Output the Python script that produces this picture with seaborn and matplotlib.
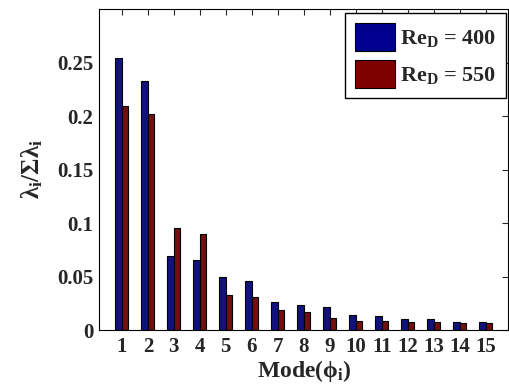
import pandas as pd
import matplotlib
matplotlib.use("Agg")
import matplotlib.pyplot as plt
import seaborn as sns
from matplotlib.patches import Patch

# valores
modos = [str(i) for i in range(1, 16)]
re_400 = [0.254, 0.233, 0.0695, 0.0658, 0.0499, 0.0461, 0.0265, 0.0237,
          0.0218, 0.0143, 0.0134, 0.0106, 0.0106, 0.0078, 0.0078]
re_550 = [0.2095, 0.202, 0.0957, 0.0895, 0.033, 0.0312, 0.019, 0.0171,
          0.0115, 0.0087, 0.0087, 0.0078, 0.0078, 0.0068, 0.0068]
etiquetas = [r'Re$_\mathbf{D}$ = 400', r'Re$_\mathbf{D}$ = 550']
colores = ['#00008f', '#800000']

df = pd.DataFrame({
    'modo': modos * 2,
    'valor': re_400 + re_550,
    'caso': [etiquetas[0]] * 15 + [etiquetas[1]] * 15,
})

sns.set_style('white')
plt.rcParams['font.family'] = ['Liberation Serif', 'DejaVu Serif']
plt.rcParams['font.weight'] = 'bold'
plt.rcParams['mathtext.fontset'] = 'custom'
plt.rcParams['mathtext.rm'] = 'Liberation Serif:bold'
plt.rcParams['mathtext.it'] = 'Liberation Serif:bold'
plt.rcParams['mathtext.bf'] = 'Liberation Serif:bold'

fig = plt.figure(figsize=(5.09, 3.9), dpi=100)
ax = fig.add_axes([0.1945, 0.1538, 0.8045, 0.823])

sns.barplot(data=df, x='modo', y='valor', hue='caso', palette=colores,
            width=0.5, edgecolor='black', linewidth=0.8, ax=ax, legend=False)

ax.set_xlim(-0.88, 14.88)
ax.set_ylim(0, 0.3)
ax.set_yticks([0, 0.05, 0.1, 0.15, 0.2, 0.25])
ax.set_yticklabels(['0', '0.05', '0.1', '0.15', '0.2', '0.25'])
ax.tick_params(direction='in', length=4, width=0.8, top=True, right=True,
               labelsize=15, pad=4)
ax.tick_params(axis='x', pad=5)
for s in ax.spines.values():
    s.set_visible(True)
    s.set_color('black')
    s.set_linewidth(0.8)

ax.set_xlabel(r'Mode($\phi_\mathbf{i}$)', fontsize=17, fontweight='bold', labelpad=1)
ax.set_ylabel(r'$\lambda_\mathbf{i}/\Sigma\lambda_\mathbf{i}$', fontsize=18,
              fontweight='bold', labelpad=9)

handles = [Patch(facecolor=c, edgecolor='black', linewidth=0.8) for c in colores]
ax.legend(handles, etiquetas, loc='upper right', fontsize=16, fancybox=False,
          edgecolor='black', framealpha=1, handlelength=1.8, handleheight=1.55,
          handletextpad=0.25, borderpad=0.45, labelspacing=0.4,
          borderaxespad=0, bbox_to_anchor=(0.995, 0.9875))

fig.savefig('out.png', dpi=100)
